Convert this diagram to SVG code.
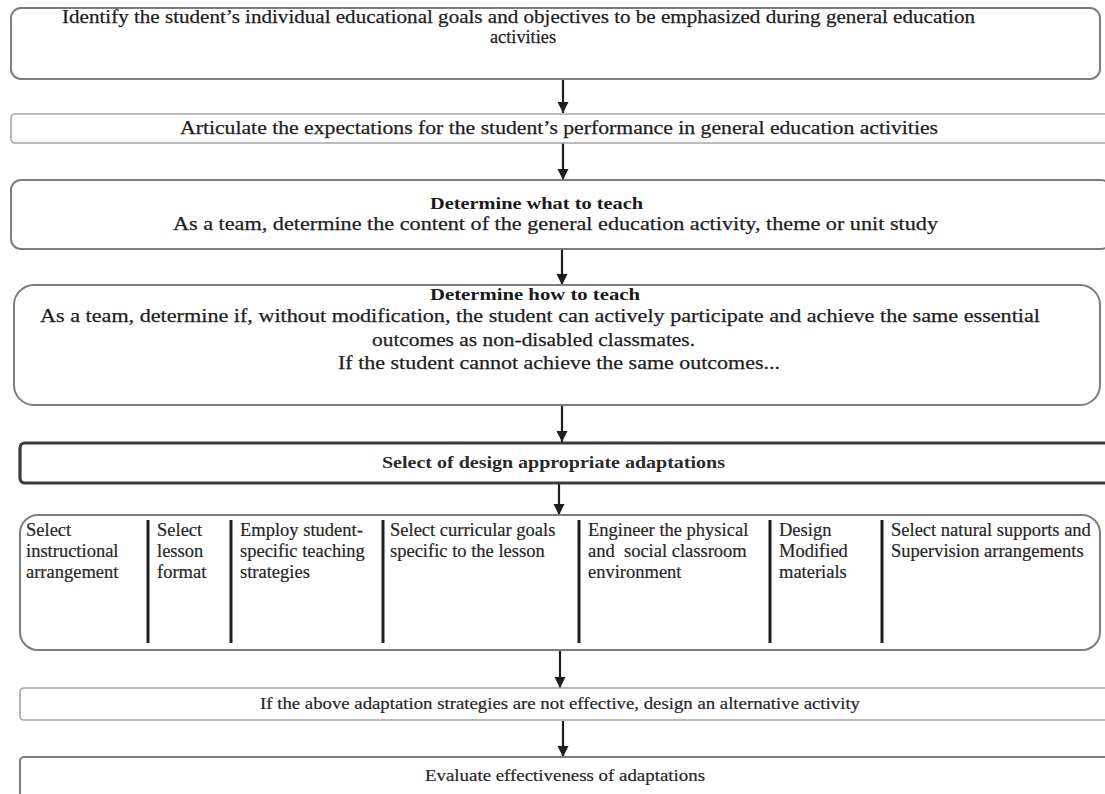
<svg xmlns="http://www.w3.org/2000/svg" width="1105" height="794" viewBox="0 0 1105 794">
  <defs>
    <marker id="head" viewBox="0 0 10 10" refX="10" refY="5" markerWidth="11" markerHeight="12" markerUnits="userSpaceOnUse" orient="auto">
      <path d="M0,0 L10,5 L0,10 z" fill="#1e1e1e"/>
    </marker>
    <style>
      .box { fill: #ffffff; stroke: #7d7d7d; stroke-width: 2; }
      .thin { fill: #ffffff; stroke: #a6a6a6; stroke-width: 1.6; }
      .heavy { fill: #ffffff; stroke: #3a3a3a; stroke-width: 3.2; }
      .t { font-family: "Liberation Serif", "Times New Roman", serif; font-size: 19px; fill: #1e1e1e; stroke: #1e1e1e; stroke-width: 0.25; }
      .b { font-family: "Liberation Serif", "Times New Roman", serif; font-size: 17.5px; font-weight: bold; fill: #1a1a1a; }
      .s { font-family: "Liberation Serif", "Times New Roman", serif; font-size: 17px; fill: #262626; stroke: #262626; stroke-width: 0.2; }
      .sb { font-family: "Liberation Serif", "Times New Roman", serif; font-size: 16px; font-weight: bold; fill: #2a2a2a; }
      .col { font-family: "Liberation Serif", "Times New Roman", serif; font-size: 18.5px; fill: #262626; stroke: #262626; stroke-width: 0.2; }
      .arrow { stroke: #1e1e1e; stroke-width: 2.2; fill: none; marker-end: url(#head); }
      .div { stroke: #1e1e1e; stroke-width: 3; }
    </style>
  </defs>

  <rect width="1105" height="794" fill="#ffffff"/>

  <!-- connectors between the stages -->
  <g id="connectors">
    <line class="arrow" x1="563" y1="80" x2="563" y2="113"/>
    <line class="arrow" x1="563" y1="143" x2="563" y2="180"/>
    <line class="arrow" x1="562" y1="250" x2="562" y2="285"/>
    <line class="arrow" x1="562" y1="405" x2="562" y2="442"/>
    <line class="arrow" x1="559" y1="484" x2="559" y2="515"/>
    <line class="arrow" x1="560" y1="651" x2="560" y2="688"/>
    <line class="arrow" x1="563" y1="721" x2="563" y2="757"/>
  </g>

  <g id="goals">
    <rect class="box" x="11" y="8" width="1089" height="71" rx="10"/>
    <text class="t" x="62" y="23" textLength="913" lengthAdjust="spacingAndGlyphs">Identify the student’s individual educational goals and objectives to be emphasized during general education</text>
    <text class="t" x="490" y="43" textLength="66" lengthAdjust="spacingAndGlyphs">activities</text>
  </g>

  <g id="expectations">
    <rect class="thin" x="11" y="114" width="1100" height="29" rx="4"/>
    <text class="t" x="180" y="134" textLength="758" lengthAdjust="spacingAndGlyphs">Articulate the expectations for the student’s performance in general education activities</text>
  </g>

  <g id="what-to-teach">
    <rect class="box" x="11" y="180" width="1100" height="69" rx="10"/>
    <text class="b" x="430" y="209" textLength="213" lengthAdjust="spacingAndGlyphs">Determine what to teach</text>
    <text class="t" x="173" y="230" textLength="765" lengthAdjust="spacingAndGlyphs">As a team, determine the content of the general education activity, theme or unit study</text>
  </g>

  <g id="how-to-teach">
    <rect class="box" x="14" y="285" width="1086" height="120" rx="20"/>
    <text class="b" x="430" y="300" textLength="210" lengthAdjust="spacingAndGlyphs">Determine how to teach</text>
    <text class="t" x="40" y="322" textLength="1000" lengthAdjust="spacingAndGlyphs">As a team, determine if, without modification, the student can actively participate and achieve the same essential</text>
    <text class="t" x="372" y="346" textLength="323" lengthAdjust="spacingAndGlyphs">outcomes as non-disabled classmates.</text>
    <text class="t" x="338" y="369" textLength="442" lengthAdjust="spacingAndGlyphs">If the student cannot achieve the same outcomes...</text>
  </g>

  <g id="select-adaptations">
    <rect class="heavy" x="20" y="443" width="1095" height="40" rx="5"/>
    <text class="sb" x="382" y="468" textLength="343" lengthAdjust="spacingAndGlyphs">Select of design appropriate adaptations</text>
  </g>

  <g id="adaptation-options">
    <rect class="box" x="20" y="515" width="1080" height="135" rx="18"/>
    <line class="div" x1="148" y1="520" x2="148" y2="643"/>
    <line class="div" x1="231" y1="520" x2="231" y2="643"/>
    <line class="div" x1="383" y1="520" x2="383" y2="643"/>
    <line class="div" x1="579" y1="520" x2="579" y2="643"/>
    <line class="div" x1="770" y1="520" x2="770" y2="643"/>
    <line class="div" x1="882" y1="520" x2="882" y2="643"/>
    <text class="col" x="26" y="536">Select</text>
    <text class="col" x="26" y="557">instructional</text>
    <text class="col" x="26" y="578">arrangement</text>
    <text class="col" x="157" y="536">Select</text>
    <text class="col" x="157" y="557">lesson</text>
    <text class="col" x="157" y="578">format</text>
    <text class="col" x="240" y="536">Employ student-</text>
    <text class="col" x="240" y="557">specific teaching</text>
    <text class="col" x="240" y="578">strategies</text>
    <text class="col" x="390" y="536">Select curricular goals</text>
    <text class="col" x="390" y="557">specific to the lesson</text>
    <text class="col" x="588" y="536">Engineer the physical</text>
    <text class="col" x="588" y="557" xml:space="preserve">and  social classroom</text>
    <text class="col" x="588" y="578">environment</text>
    <text class="col" x="779" y="536">Design</text>
    <text class="col" x="779" y="557">Modified</text>
    <text class="col" x="779" y="578">materials</text>
    <text class="col" x="891" y="536">Select natural supports and</text>
    <text class="col" x="891" y="557">Supervision arrangements</text>
  </g>

  <g id="alternative-activity">
    <rect class="thin" x="20" y="688" width="1095" height="32" rx="4"/>
    <text class="s" x="260" y="709" textLength="600" lengthAdjust="spacingAndGlyphs">If the above adaptation strategies are not effective, design an alternative activity</text>
  </g>

  <g id="evaluate">
    <rect class="box" x="20" y="757" width="1095" height="42" rx="4"/>
    <text class="s" x="425" y="781" textLength="280" lengthAdjust="spacingAndGlyphs">Evaluate effectiveness of adaptations</text>
  </g>
</svg>
